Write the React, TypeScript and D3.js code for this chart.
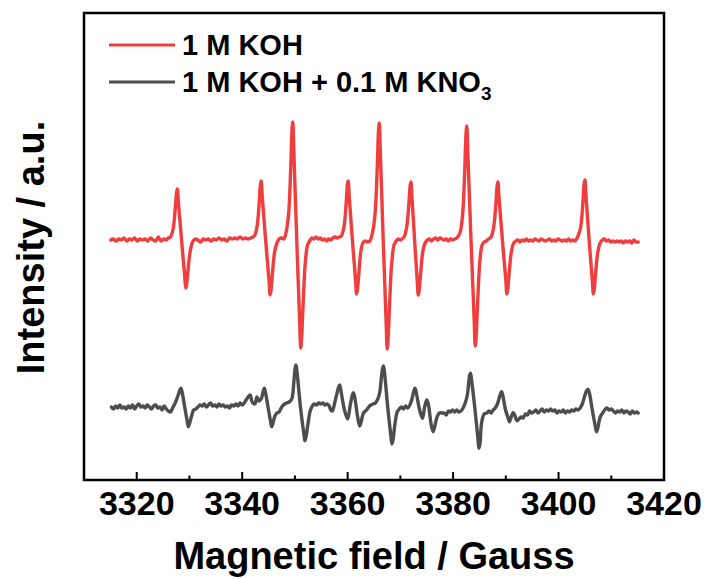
import React from 'react';
import * as d3 from 'd3';

// ---- data ----
const xDomain: [number, number] = [3310, 3420];
const majorTicks = [3320, 3340, 3360, 3380, 3400, 3420];
const minorTicks = [3330, 3350, 3370, 3390, 3410];
const seriesNames = ['1 M KOH', '1 M KOH + 0.1 M KNO'];
const seriesSub = ['', '3'];
const seriesColors = ['#F03E3E', '#4D4D4D'];
const seriesOffsets = [240, 73]; // vertical stacking offset (a.u.)

// field (Gauss), intensity (a.u.)
const redSpectrum: [number, number][] = [
  [3315.1,0],[3315.6,1],[3316.1,-1],[3316.6,1],[3317.1,0],[3317.6,2],[3318.1,-1],[3318.6,1],[3319.1,0],[3319.6,2],[3320.1,-1],[3320.6,1],[3321.1,0],[3321.6,1],[3322.1,-1],[3322.6,2],[3323.1,0],[3323.6,-1],[3324.1,3],[3324.6,-1],[3325.1,1],[3325.6,0],[3326.0,2],
  [3326.4,3],[3326.9,11],[3327.3,31],[3327.55,47],[3327.7,51],[3327.9,38],[3328.5,0],[3329.1,-36],[3329.3,-48],[3329.45,-45],[3329.75,-29],[3330.15,-11],[3330.6,-2],
  [3331.1,1],[3331.6,0],[3332.1,-2],[3332.6,1],[3333.1,0],[3333.6,1],[3334.1,-1],[3334.6,1],[3335.1,0],[3335.6,2],[3336.1,0],[3336.6,1],[3337.1,-1],[3337.6,2],[3338.1,1],[3338.6,2],[3339.1,1],[3339.6,3],[3340.1,1],[3340.6,2],[3341.1,1],[3341.6,2],
  [3342.3,4],[3342.8,13],[3343.2,35],[3343.45,55],[3343.6,59],[3343.8,44],[3344.45,0],[3345.1,-41],[3345.3,-55],[3345.45,-51],[3345.75,-33],[3346.15,-12],[3346.6,-3],
  [3347.0,1],[3347.5,2],[3347.9,1],
  [3348.3,7],[3348.8,26],[3349.2,71],[3349.45,110],[3349.6,118],[3349.8,89],[3350.35,0],[3350.9,-81],[3351.1,-108],[3351.25,-100],[3351.55,-65],[3351.95,-24],[3352.4,-5],
  [3352.8,-1],[3353.2,2],[3353.6,1],[3354.0,3],[3354.4,1],[3354.8,2],[3355.2,0],[3355.6,1],[3356.0,-1],[3356.4,1],[3356.8,0],[3357.2,2],[3357.6,3],[3358.0,2],[3358.4,3],
  [3358.8,4],[3359.3,13],[3359.7,35],[3359.95,55],[3360.1,59],[3360.3,44],[3360.9,0],[3361.5,-40],[3361.7,-54],[3361.85,-50],[3362.15,-32],[3362.55,-10],[3363.0,-2],
  [3363.4,-1],[3363.8,-2],[3364.2,-1],
  [3364.7,7],[3365.2,26],[3365.6,70],[3365.85,109],[3366.0,117],[3366.2,88],[3366.75,0],[3367.3,-82],[3367.5,-109],[3367.65,-101],[3367.95,-65],[3368.35,-24],[3368.8,-5],
  [3369.2,-1],[3369.6,1],[3370.0,0],[3370.3,1],
  [3370.7,3],[3371.2,13],[3371.6,35],[3371.85,54],[3372.0,58],[3372.2,43],[3372.7,0],[3373.2,-41],[3373.4,-55],[3373.55,-51],[3373.85,-33],[3374.25,-12],[3374.7,-3],
  [3375.1,0],[3375.5,1],[3375.9,-1],[3376.3,1],[3376.7,2],[3377.1,0],[3377.5,2],[3377.9,1],[3378.3,0],[3378.7,1],[3379.1,-1],[3379.5,1],[3379.9,0],[3380.3,1],[3380.7,2],
  [3381.3,7],[3381.8,25],[3382.2,68],[3382.45,106],[3382.6,114],[3382.8,86],[3383.4,0],[3384.0,-80],[3384.2,-106],[3384.35,-99],[3384.65,-64],[3385.05,-23],[3385.5,-5],
  [3385.9,-2],[3386.3,-1],[3386.7,1],
  [3387.2,3],[3387.7,13],[3388.1,35],[3388.35,54],[3388.5,58],[3388.7,43],[3389.35,0],[3390.0,-40],[3390.2,-54],[3390.35,-50],[3390.65,-32],[3391.05,-12],[3391.5,-3],
  [3391.9,-1],[3392.3,0],[3392.7,-2],[3393.1,0],[3393.5,-1],[3393.9,1],[3394.3,-1],[3394.7,0],[3395.1,-1],[3395.5,1],[3395.9,0],[3396.3,-1],[3396.7,1],[3397.1,0],[3397.5,-1],[3397.9,0],[3398.3,1],[3398.7,-1],[3399.1,0],[3399.5,-1],[3399.9,1],[3400.3,0],[3400.7,-1],[3401.1,0],[3401.5,-1],[3401.9,1],[3402.3,-1],[3402.7,0],[3403.1,-1],[3403.4,1],
  [3403.7,4],[3404.2,13],[3404.6,36],[3404.85,56],[3405.0,60],[3405.2,45],[3405.8,0],[3406.4,-40],[3406.6,-54],[3406.75,-50],[3407.05,-32],[3407.45,-12],[3407.9,-3],
  [3408.3,0],[3408.7,1],[3409.1,-1],[3409.5,0],[3409.9,-2],[3410.3,-1],[3410.7,-2],[3411.1,-1],[3411.5,-2],[3411.9,-1],[3412.3,-3],[3412.7,-1],[3413.1,-2],[3413.5,-1],[3413.9,-3],[3414.3,0],[3414.7,-2],[3415.1,-2],
];

const graySpectrum: [number, number][] = [
  [3315.2,0],[3315.6,-2],[3316.0,1],[3316.4,-1],[3316.8,2],[3317.2,-1],[3317.6,0],[3318.0,-2],[3318.4,1],[3318.8,-1],[3319.2,2],[3319.6,-2],[3320.0,1],[3320.4,3],[3320.8,0],[3321.2,1],[3321.6,-1],[3322.0,2],[3322.4,0],[3322.8,-2],[3323.2,1],[3323.6,2],[3324.0,-1],[3324.4,0],[3324.8,-3],[3325.2,1],[3325.6,-2],[3326.0,-4],[3326.4,-5],[3326.8,-1],
  [3327.3,4],[3327.8,11],[3328.2,17],[3328.4,18.7],[3328.6,15],[3329.1,0],[3329.6,-15],[3329.8,-19.7],[3330.0,-17],[3330.4,-9],[3330.8,-3],
  [3331.2,-2],[3331.6,0],[3332.0,2],[3332.4,1],[3332.8,3],[3333.2,0],[3333.6,2],[3334.0,4],[3334.4,1],[3334.8,2],[3335.2,0],[3335.6,3],[3336.0,1],[3336.4,2],[3336.8,0],[3337.2,1],[3337.6,-1],[3338.0,2],[3338.4,1],[3338.8,3],[3339.2,1],[3339.6,4],[3340.0,2],[3340.5,5],[3341.0,9],[3341.5,12],[3341.9,5],[3342.4,3],[3342.8,10],[3343.2,6],[3343.6,8],
  [3344.0,16],[3344.2,18.7],[3344.4,15],[3344.9,0],[3345.4,-15],[3345.6,-19.7],[3345.8,-17],[3346.2,-9],[3346.6,-6],
  [3347.0,-5],[3347.4,-1],[3347.8,2],[3348.1,3],[3348.4,4],[3348.9,5],
  [3349.4,8],[3349.8,25],[3350.05,39],[3350.2,42],[3350.4,35],[3351.05,0],[3351.7,-27],[3351.9,-33.7],[3352.1,-30],[3352.5,-16],[3352.9,-4],
  [3353.3,1],[3353.7,3],[3354.1,2],[3354.5,4],[3354.9,3],[3355.3,4],[3355.7,2],[3356.1,3],[3356.5,1],[3356.8,-3],[3357.1,-4],[3357.5,3],
  [3357.9,12],[3358.3,20],[3358.5,22],[3358.8,14],[3359.4,-3],[3360.0,-12],[3360.5,2],[3360.9,12],[3361.1,14.3],[3361.4,8],[3361.9,-10],[3362.3,-19],[3362.6,-14],[3363.0,-6],[3363.6,-3],[3364.0,0],[3364.4,2],[3364.8,3],
  [3365.3,4],[3365.8,9],[3366.1,15],[3366.45,32],[3366.65,39],[3366.8,41],[3367.0,34],[3367.6,0],[3368.2,-29],[3368.4,-37],[3368.6,-33],[3369.0,-16],[3369.4,-5],
  [3369.8,-2],[3370.2,0],[3370.6,-2],[3371.0,1],[3371.4,-1],[3371.8,2],
  [3372.2,8],[3372.55,16],[3372.8,18.7],[3373.1,12],[3373.7,-4],[3374.2,-11.3],[3374.6,0],[3375.0,7],[3375.3,3],[3375.8,-16],[3376.2,-24.7],[3376.5,-20],[3376.9,-11],[3377.4,-6],[3377.9,-6],[3378.3,-6],[3378.7,-8],[3379.1,-4],[3379.5,-5],[3379.9,-3],[3380.3,-5],[3380.7,-3],[3381.1,-5],[3381.5,-4],[3381.9,-1],[3382.3,4],
  [3382.7,12],[3383.0,26],[3383.15,32],[3383.3,33.7],[3383.5,27],[3384.1,0],[3384.7,-31],[3384.9,-41.3],[3385.1,-37],[3385.4,-16],[3385.9,-7],[3386.4,-6],
  [3386.8,-4],[3387.2,-6],[3387.6,-3],[3388.0,-1],[3388.4,3],[3388.8,10],[3389.05,14],[3389.2,15.3],[3389.45,11],[3389.95,-3],[3390.5,-12],[3390.7,-14.7],[3390.95,-11],[3391.4,-5.7],[3391.75,-9],[3392.1,-13.7],[3392.5,-12],[3392.9,-10],[3393.3,-11],[3393.7,-7],[3394.1,-8],[3394.5,-4],[3394.9,-6],[3395.3,-5],[3395.7,-3],[3396.1,-6],[3396.5,-4],[3396.9,-2],[3397.3,-5],[3397.7,-3],[3398.1,-4],[3398.5,-2],[3398.9,-4],[3399.3,-3],[3399.7,-6],[3400.1,-4],[3400.5,-5],[3400.9,-3],[3401.3,-6],[3401.7,-4],[3402.1,-5],[3402.5,-3],[3402.9,-4],[3403.3,-2],[3403.7,-3],[3404.1,-1],
  [3404.5,3],[3404.9,10],[3405.3,16],[3405.6,17.7],[3405.85,14],[3406.4,-3],[3407.0,-20],[3407.2,-24.7],[3407.45,-21],[3407.9,-10],[3408.5,-5],[3408.9,-2],[3409.2,-1],[3409.6,-3],[3410.0,-2],[3410.4,-4],[3410.8,-6],[3411.2,-4],[3411.6,-5],[3412.0,-3],[3412.4,-6],[3412.8,-4],[3413.2,-5],[3413.6,-7],[3414.0,-4],[3414.4,-6],[3414.8,-5],[3415.1,-6],
];

const spectra = [redSpectrum, graySpectrum];

// ---- layout ----
const W = 710, H = 579;
const L = 84, R = 664, T = 13, B = 480;
const FONT = '"Liberation Sans", Arial, Helvetica, sans-serif';

export default function App() {
  const x = d3.scaleLinear().domain(xDomain).range([L, R]);
  const y = d3.scaleLinear().domain([0, B - T]).range([B, T]);

  const lines = spectra.map((s, i) =>
    d3.line<[number, number]>()
      .x(d => x(d[0]))
      .y(d => y(d[1] + seriesOffsets[i]))
      .curve(d3.curveCatmullRom.alpha(0.5))(s) || ''
  );

  return (
    <svg width={W} height={H} style={{ position: 'absolute', left: 0, top: 0, background: '#fff' }}
      fontFamily={FONT}>
      {lines.map((d, i) => (
        <path key={i} d={d} fill="none" stroke={seriesColors[i]} strokeWidth={3.4}
          strokeLinejoin="round" strokeLinecap="round" />
      ))}
      {/* frame */}
      <rect x={L} y={T} width={R - L} height={B - T} fill="none" stroke="#000" strokeWidth={2.5} />
      {/* ticks */}
      {majorTicks.map(t => (
        <line key={'M' + t} x1={x(t)} x2={x(t)} y1={B} y2={B - 8} stroke="#000" strokeWidth={2} />
      ))}
      {minorTicks.map(t => (
        <line key={'m' + t} x1={x(t)} x2={x(t)} y1={B} y2={B - 4.5} stroke="#000" strokeWidth={2} />
      ))}
      {majorTicks.map(t => (
        <text key={'l' + t} x={x(t)} y={515} textAnchor="middle" fontSize={34} fontWeight="bold" fill="#000">
          {t}
        </text>
      ))}
      <text x={(L + R) / 2} y={569} textAnchor="middle" fontSize={38} fontWeight="bold" fill="#000">
        Magnetic field / Gauss
      </text>
      <text transform={`translate(44,${(T + B) / 2 + 1}) rotate(-90)`} textAnchor="middle" fontSize={38}
        fontWeight="bold" fill="#000">
        Intensity / a.u.
      </text>
      {/* legend */}
      {seriesNames.map((n, i) => (
        <g key={n}>
          <line x1={109} x2={175} y1={45 + i * 37} y2={45 + i * 37} stroke={seriesColors[i]} strokeWidth={3} />
          <text x={182} y={55 + i * 37} fontSize={29} fontWeight="bold" fill="#000">
            {n}
            {seriesSub[i] && <tspan fontSize={19} dy={8}>{seriesSub[i]}</tspan>}
          </text>
        </g>
      ))}
    </svg>
  );
}
